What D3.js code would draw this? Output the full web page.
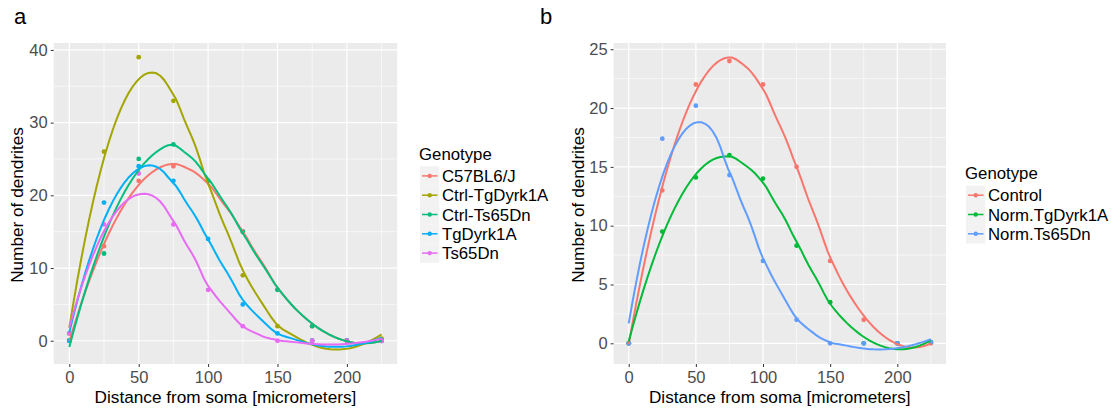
<!DOCTYPE html>
<html>
<head>
<meta charset="utf-8">
<script src="https://cdn.jsdelivr.net/npm/d3@7"></script>
<style>
  body { margin: 0; background: #fff; }
  text { font-family: "Liberation Sans", Arial, sans-serif; }
</style>
</head>
<body>
<div id="chart"></div>
<script>
// distances from soma (micrometers)
const distances = [0, 25, 50, 75, 100, 125, 150, 175, 200, 225];

// panel a
const genotypesA = ['C57BL6/J', 'Ctrl-TgDyrk1A', 'Ctrl-Ts65Dn', 'TgDyrk1A', 'Ts65Dn'];
const c57bl6 = [0, 13, 22, 24, 22, 15, 7, 2, 0, 0];
const ctrlTgDyrk1A = [1, 26, 39, 33, 22, 9, 2, 0, 0, 0.3];
const ctrlTs65Dn = [0, 12, 25, 27, 22, 15, 7, 2, 0, 0];
const tgDyrk1A = [0, 19, 24, 22, 14, 5, 1, 0, 0, 0];
const ts65Dn = [1, 16, 23, 16, 7, 2, 0, 0, 0, 0];
const colorsA = ['#F8766D', '#A3A500', '#00BF7D', '#00B0F6', '#E76BF3'];
const yTicksA = [0, 10, 20, 30, 40];

// panel b
const genotypesB = ['Control', 'Norm.TgDyrk1A', 'Norm.Ts65Dn'];
const control = [0, 13, 22, 24, 22, 15, 7, 2, 0, 0];
const normTgDyrk1A = [0, 9.5, 14.1, 16, 14, 8.3, 3.5, 0, 0, 0.1];
const normTs65Dn = [0, 17.4, 20.2, 14.3, 7, 2, 0, 0, 0, 0.1];
const colorsB = ['#F8766D', '#00BA38', '#619CFF'];
const yTicksB = [0, 5, 10, 15, 20, 25];

const xTicks = [0, 50, 100, 150, 200];

const svg = d3.select('#chart').append('svg')
    .attr('width', 1116)
    .attr('height', 412);

// local quadratic regression (loess, span 0.75, tricube weights) like geom_smooth
function loessAt(xs, ys, x0, span) {
    const n = xs.length;
    const q = Math.floor(n * span);
    const dist = xs.map(x => Math.abs(x - x0));
    const h = dist.slice().sort((a, b) => a - b)[q - 1];
    const S = [0, 0, 0, 0, 0], T = [0, 0, 0];
    for (let i = 0; i < n; i++) {
        const r = dist[i] / h;
        if (r >= 1) continue;
        const w = Math.pow(1 - r * r * r, 3);
        const u = (xs[i] - x0) / h;
        let p = 1;
        for (let k = 0; k < 5; k++) { S[k] += w * p; if (k < 3) T[k] += w * p * ys[i]; p *= u; }
    }
    const A = [[S[0], S[1], S[2], T[0]], [S[1], S[2], S[3], T[1]], [S[2], S[3], S[4], T[2]]];
    for (let c = 0; c < 3; c++) {
        for (let r = c + 1; r < 3; r++) {
            const f = A[r][c] / A[c][c];
            for (let k = c; k < 4; k++) A[r][k] -= f * A[c][k];
        }
    }
    const sol = [0, 0, 0];
    for (let r = 2; r >= 0; r--) {
        let s = A[r][3];
        for (let k = r + 1; k < 3; k++) s -= A[r][k] * sol[k];
        sol[r] = s / A[r][r];
    }
    return sol[0];
}

function smooth(ys) {
    const grid = d3.range(80).map(i => 225 * i / 79);
    return grid.map(x => [x, loessAt(distances, ys, x, 0.75)]);
}

function panel(opts) {
    const g = svg.append('g');
    const x = d3.scaleLinear().domain([-11.25, 236.25]).range([opts.left, opts.right]);
    const y = d3.scaleLinear().domain(opts.yDomain).range([364, 43]);

    g.append('rect')
        .attr('x', opts.left).attr('y', 43)
        .attr('width', opts.right - opts.left).attr('height', 321)
        .attr('fill', '#EBEBEB');

    // minor grid
    const minorX = [25, 75, 125, 175, 225];
    const minorY = opts.yTicks.slice(0, -1).map((t, i) => (t + opts.yTicks[i + 1]) / 2)
        .concat([opts.yTicks[opts.yTicks.length - 1] + (opts.yTicks[1] - opts.yTicks[0]) / 2])
        .filter(v => y(v) > 43);
    g.selectAll('.mx').data(minorX).enter().append('line')
        .attr('x1', d => x(d)).attr('x2', d => x(d)).attr('y1', 43).attr('y2', 364)
        .attr('stroke', '#fff').attr('stroke-width', 0.6);
    g.selectAll('.my').data(minorY).enter().append('line')
        .attr('x1', opts.left).attr('x2', opts.right).attr('y1', d => y(d)).attr('y2', d => y(d))
        .attr('stroke', '#fff').attr('stroke-width', 0.6);
    // major grid
    g.selectAll('.gx').data(xTicks).enter().append('line')
        .attr('x1', d => x(d)).attr('x2', d => x(d)).attr('y1', 43).attr('y2', 364)
        .attr('stroke', '#fff').attr('stroke-width', 1.2);
    g.selectAll('.gy').data(opts.yTicks).enter().append('line')
        .attr('x1', opts.left).attr('x2', opts.right).attr('y1', d => y(d)).attr('y2', d => y(d))
        .attr('stroke', '#fff').attr('stroke-width', 1.2);

    // axes
    const xAxis = g.append('g').attr('transform', 'translate(0,364)')
        .call(d3.axisBottom(x).tickValues(xTicks).tickSize(3).tickPadding(4));
    const yAxis = g.append('g').attr('transform', `translate(${opts.left},0)`)
        .call(d3.axisLeft(y).tickValues(opts.yTicks).tickSize(3).tickPadding(3));
    [xAxis, yAxis].forEach(a => {
        a.select('.domain').remove();
        a.selectAll('line').attr('stroke', '#333');
        a.selectAll('text').attr('fill', '#4D4D4D').style('font-size', '16.5px')
            .style('font-family', '"Liberation Sans", Arial, sans-serif');
    });

    const line = d3.line().x(d => x(d[0])).y(d => y(d[1]));
    opts.series.forEach((s, i) => {
        g.selectAll(null).data(distances).enter().append('circle')
            .attr('cx', d => x(d)).attr('cy', (d, j) => y(s[j]))
            .attr('r', 2.4).attr('fill', opts.colors[i]);
    });
    opts.series.forEach((s, i) => {
        g.append('path').datum(smooth(s))
            .attr('d', line).attr('fill', 'none')
            .attr('stroke', opts.colors[i]).attr('stroke-width', 2);
    });

    // axis titles
    g.append('text')
        .attr('x', (opts.left + opts.right) / 2).attr('y', 403)
        .attr('text-anchor', 'middle').style('font-size', '17.2px').attr('fill', '#000')
        .text('Distance from soma [micrometers]');
    g.append('text')
        .attr('transform', `translate(${opts.yTitleX},205) rotate(-90)`)
        .attr('text-anchor', 'middle').style('font-size', '17.2px').attr('fill', '#000')
        .text('Number of dendrites');

    // panel tag
    g.append('text').attr('x', opts.tagX).attr('y', 24)
        .style('font-size', '22px').attr('fill', '#000').text(opts.tag);

    // legend
    const n = opts.names.length;
    const first = 203.5 - (n - 1) * 19.3 / 2 + 11;
    const lg = g.append('g').attr('transform', `translate(${opts.legendX},0)`);
    lg.append('text').attr('x', 0).attr('y', first - 22 + 6).style('font-size', '16.8px')
        .attr('fill', '#000').text('Genotype');
    opts.names.forEach((name, i) => {
        const cy = first + i * 19.3;
        lg.append('rect').attr('x', 1).attr('y', cy - 9.6).attr('width', 19.3).attr('height', 19.3)
            .attr('fill', '#F2F2F2');
        lg.append('line').attr('x1', 3).attr('x2', 18.5).attr('y1', cy).attr('y2', cy)
            .attr('stroke', opts.colors[i]).attr('stroke-width', 1.5);
        lg.append('circle').attr('cx', 10.7).attr('cy', cy).attr('r', 2.2).attr('fill', opts.colors[i]);
        lg.append('text').attr('x', 23).attr('y', cy + 6).style('font-size', '16.8px')
            .attr('fill', '#000').text(name);
    });
}

panel({
    left: 53.7, right: 397.2, yDomain: [-3.2, 40.95], yTicks: yTicksA,
    series: [c57bl6, ctrlTgDyrk1A, ctrlTs65Dn, tgDyrk1A, ts65Dn],
    colors: colorsA, names: genotypesA, tag: 'a', tagX: 14, yTitleX: 23, legendX: 419
});
panel({
    left: 613.6, right: 946, yDomain: [-1.76, 25.53], yTicks: yTicksB,
    series: [control, normTgDyrk1A, normTs65Dn],
    colors: colorsB, names: genotypesB, tag: 'b', tagX: 540, yTitleX: 584, legendX: 965
});
</script>
</body>
</html>
